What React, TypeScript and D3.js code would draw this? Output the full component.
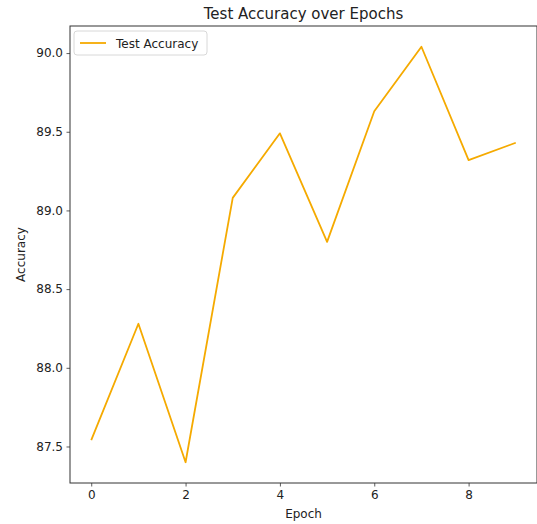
import React, { useEffect, useRef } from 'react';
import * as d3 from 'd3';

const epochs = [0, 1, 2, 3, 4, 5, 6, 7, 8, 9];
const accuracy = [87.54, 88.28, 87.40, 89.08, 89.49, 88.80, 89.63, 90.04, 89.32, 89.43];
const xTicks = [0, 2, 4, 6, 8];
const yTicks = [87.5, 88.0, 88.5, 89.0, 89.5, 90.0];

const W = 537, H = 524;
const FONT = 'DejaVu Sans, sans-serif';
const LINE = '#f5aa00';

const App = () => {
  const ref = useRef<SVGSVGElement>(null);

  useEffect(() => {
    if (!ref.current) return;
    const margin = { top: 26, right: 0, bottom: 41, left: 70 };
    const width = W - margin.left - margin.right;
    const height = H - margin.top - margin.bottom;

    const svg = d3.select(ref.current);
    svg.selectAll('*').remove();

    const g = svg.append('g').attr('transform', `translate(${margin.left},${margin.top})`);

    // matplotlib style 5% margins
    const xExt = d3.extent(epochs) as [number, number];
    const yExt = d3.extent(accuracy) as [number, number];
    const xPad = (xExt[1] - xExt[0]) * 0.05;
    const yPad = (yExt[1] - yExt[0]) * 0.05;
    const x = d3.scaleLinear().domain([xExt[0] - xPad, xExt[1] + xPad]).range([0, width]);
    const y = d3.scaleLinear().domain([yExt[0] - yPad, yExt[1] + yPad]).range([height, 0]);

    const xAxis = g.append('g')
      .attr('transform', `translate(0,${height})`)
      .call(d3.axisBottom(x).tickValues(xTicks).tickFormat(d3.format('d')).tickSizeOuter(0).tickSize(3.5).tickPadding(3.5));
    const yAxis = g.append('g')
      .call(d3.axisLeft(y).tickValues(yTicks).tickFormat(d3.format('.1f')).tickSizeOuter(0).tickSize(3.5).tickPadding(3.5));

    [xAxis, yAxis].forEach(a => {
      a.select('.domain').remove();
      a.selectAll('line').attr('stroke', '#333').attr('stroke-width', 0.8);
      a.selectAll('text').attr('font-family', FONT).attr('font-size', 12).attr('fill', '#222');
    });

    const line = d3.line<number>()
      .x((_, i) => x(epochs[i]))
      .y(d => y(d));

    g.append('path')
      .datum(accuracy)
      .attr('d', line)
      .attr('fill', 'none')
      .attr('stroke', LINE)
      .attr('stroke-width', 1.8)
      .attr('stroke-linejoin', 'round');

    // frame
    g.append('rect')
      .attr('width', width).attr('height', height)
      .attr('fill', 'none').attr('stroke', '#333').attr('stroke-width', 1);

    // legend
    const lg = g.append('g').attr('transform', 'translate(4,5)');
    lg.append('rect')
      .attr('width', 133).attr('height', 24).attr('rx', 3)
      .attr('fill', 'white').attr('stroke', '#d8d8d8').attr('stroke-width', 1);
    lg.append('line')
      .attr('x1', 6).attr('x2', 32).attr('y1', 12).attr('y2', 12)
      .attr('stroke', LINE).attr('stroke-width', 1.8);
    lg.append('text')
      .attr('x', 42).attr('y', 16.5)
      .attr('font-family', FONT).attr('font-size', 12).attr('fill', '#222')
      .text('Test Accuracy');

    // title and labels
    svg.append('text')
      .attr('x', margin.left + width / 2).attr('y', 19)
      .attr('text-anchor', 'middle')
      .attr('font-family', FONT).attr('font-size', 15).attr('fill', '#222')
      .text('Test Accuracy over Epochs');
    svg.append('text')
      .attr('x', margin.left + width / 2).attr('y', 518)
      .attr('text-anchor', 'middle')
      .attr('font-family', FONT).attr('font-size', 12).attr('fill', '#222')
      .text('Epoch');
    svg.append('text')
      .attr('transform', `translate(25,${margin.top + height / 2}) rotate(-90)`)
      .attr('text-anchor', 'middle')
      .attr('font-family', FONT).attr('font-size', 12).attr('fill', '#222')
      .text('Accuracy');
  }, []);

  return (
    <svg ref={ref} width={W} height={H}
      style={{ position: 'absolute', left: 0, top: 0, background: 'white' }} />
  );
};

export default App;
